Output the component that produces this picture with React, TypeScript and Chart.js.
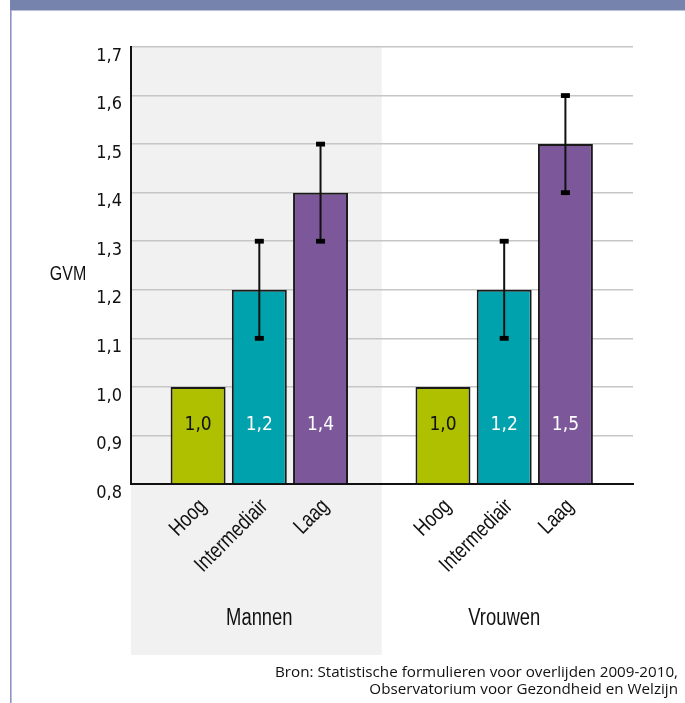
import React, { useEffect, useRef } from 'react';
import { Chart, registerables } from 'chart.js';

Chart.register(...registerables);

const groups = ['Mannen', 'Vrouwen'];
const levels = ['Hoog', 'Intermediair', 'Laag'];
const hoog = [1.0, 1.0];
const intermediair = [1.2, 1.2];
const laag = [1.4, 1.5];
const intermediairLow = [1.1, 1.1];
const intermediairHigh = [1.3, 1.3];
const laagLow = [1.3, 1.4];
const laagHigh = [1.5, 1.6];
const hoogLabels = ['1,0', '1,0'];
const intermediairLabels = ['1,2', '1,2'];
const laagLabels = ['1,4', '1,5'];
const yMin = 0.8;
const yMax = 1.7;
const yStep = 0.1;
const yTitle = 'GVM';
const sourceLines = [
  'Bron: Statistische formulieren voor overlijden 2009-2010,',
  'Observatorium voor Gezondheid en Welzijn',
];

const CONDENSED = '"DejaVu Sans Condensed", "Liberation Sans Narrow", sans-serif';
const HELV = '"Liberation Sans", Arial, sans-serif';
const SOURCE_FONT = '"Open Sans", "Noto Sans", sans-serif';

const errLow: (number[] | null)[] = [null, intermediairLow, laagLow];
const errHigh: (number[] | null)[] = [null, intermediairHigh, laagHigh];
const barLabels = [hoogLabels, intermediairLabels, laagLabels];
const labelColors = ['#111111', '#ffffff', '#ffffff'];

const toPoints = (vals: number[]) => vals.map((v, i) => ({ x: i, y: v }));

function narrowText(ctx: CanvasRenderingContext2D, text: string, x: number, y: number, size: number, align: CanvasTextAlign, rot = 0, squeeze = 0.8) {
  ctx.save();
  ctx.translate(x, y);
  if (rot) ctx.rotate(rot);
  ctx.scale(squeeze, 1);
  ctx.font = `${size}px ${HELV}`;
  ctx.textAlign = align;
  ctx.textBaseline = 'middle';
  ctx.fillText(text, 0, 0);
  ctx.restore();
}

const decor = {
  id: 'decor',
  beforeDraw(chart: any) {
    const { ctx, chartArea, scales } = chart;
    const x = scales.x;
    const mid = x.getPixelForValue(0.5);
    ctx.save();
    ctx.fillStyle = '#ffffff';
    ctx.fillRect(0, 0, chart.width, chart.height);
    ctx.fillStyle = '#f1f1f1';
    ctx.fillRect(chartArea.left, chartArea.top, mid - chartArea.left, chartArea.bottom + 171 - chartArea.top);
    ctx.fillStyle = '#7683ad';
    ctx.fillRect(10, 0, chart.width - 10, 10.5);
    ctx.fillStyle = '#8c95c2';
    ctx.fillRect(10, 10, 1.6, chart.height - 10);
    ctx.restore();
  },
  afterDatasetsDraw(chart: any) {
    const { ctx, chartArea, scales } = chart;
    const y = scales.y;
    ctx.save();
    // error bars
    for (let i = 0; i < 3; i++) {
      const lo = errLow[i];
      const hi = errHigh[i];
      if (!lo || !hi) continue;
      const meta = chart.getDatasetMeta(i);
      meta.data.forEach((bar: any, j: number) => {
        const yl = y.getPixelForValue(lo[j]);
        const yh = y.getPixelForValue(hi[j]);
        ctx.strokeStyle = '#111111';
        ctx.lineWidth = 2;
        ctx.beginPath();
        ctx.moveTo(bar.x, yl);
        ctx.lineTo(bar.x, yh);
        ctx.stroke();
        ctx.fillStyle = '#000000';
        ctx.fillRect(bar.x - 4.5, yl - 2.4, 9, 4.8);
        ctx.fillRect(bar.x - 4.5, yh - 2.4, 9, 4.8);
      });
    }
    // value labels inside bars
    ctx.font = `19px ${CONDENSED}`;
    ctx.textAlign = 'center';
    ctx.textBaseline = 'middle';
    for (let i = 0; i < 3; i++) {
      const meta = chart.getDatasetMeta(i);
      ctx.fillStyle = labelColors[i];
      meta.data.forEach((bar: any, j: number) => {
        ctx.fillText(barLabels[i][j], bar.x, chartArea.bottom - 59);
      });
    }
    // rotated level labels
    ctx.fillStyle = '#111111';
    for (let i = 0; i < 3; i++) {
      const meta = chart.getDatasetMeta(i);
      meta.data.forEach((bar: any) => {
        narrowText(ctx, levels[i], bar.x + 5, chartArea.bottom + 19, 22, 'right', -Math.PI / 4);
      });
    }
    // group labels
    const mid = chart.getDatasetMeta(1);
    mid.data.forEach((bar: any, j: number) => {
      narrowText(ctx, groups[j], bar.x, chartArea.bottom + 135, 23, 'center');
    });
    // y title
    narrowText(ctx, yTitle, chartArea.left - 63, (chartArea.top + chartArea.bottom) / 2 + 9, 20, 'center');
    // source
    ctx.font = `15.2px ${SOURCE_FONT}`;
    ctx.textAlign = 'right';
    ctx.textBaseline = 'alphabetic';
    ctx.fillStyle = '#111111';
    ctx.fillText(sourceLines[0], 678, chart.height - 26);
    ctx.fillText(sourceLines[1], 678, chart.height - 9);
    ctx.restore();
  },
};

export default function App() {
  const ref = useRef<HTMLCanvasElement | null>(null);
  useEffect(() => {
    if (!ref.current) return;
    const chart = new Chart(ref.current, {
      type: 'bar',
      data: {
        datasets: [
          { label: levels[0], data: toPoints(hoog), backgroundColor: '#aec000', borderColor: '#1a1a1a', borderWidth: 2, base: yMin } as any,
          { label: levels[1], data: toPoints(intermediair), backgroundColor: '#00a3ad', borderColor: '#1a1a1a', borderWidth: 2, base: yMin } as any,
          { label: levels[2], data: toPoints(laag), backgroundColor: '#7c579a', borderColor: '#1a1a1a', borderWidth: 2, base: yMin } as any,
        ],
      },
      options: {
        responsive: false,
        animation: false,
        devicePixelRatio: 1,
        categoryPercentage: 0.75,
        barPercentage: 0.898,
        layout: { padding: { top: 47, right: 52, left: 0, bottom: 0 } },
        plugins: { legend: { display: false }, tooltip: { enabled: false }, title: { display: false } },
        scales: {
          x: {
            type: 'linear',
            min: -0.524,
            max: 1.526,
            offset: false,
            grid: { display: false, drawTicks: false },
            border: { display: true, color: '#111111', width: 2 },
            ticks: { display: false },
            afterBuildTicks: (s: any) => { s.ticks = groups.map((_, i) => ({ value: i })); },
            afterFit: (s: any) => { s.height = 219; },
          },
          y: {
            min: yMin,
            max: yMax,
            grid: { color: '#c6c6c6', lineWidth: 1.5, drawTicks: false },
            border: { display: true, color: '#111111', width: 2 },
            ticks: {
              stepSize: yStep,
              padding: 9,
              labelOffset: 9,
              color: '#111111',
              font: { family: CONDENSED, size: 18 },
              callback: (v: any) => Number(v).toFixed(1).replace('.', ','),
            },
            afterFit: (s: any) => { s.width = 131; },
          },
        },
      } as any,
      plugins: [decor],
    });
    return () => chart.destroy();
  }, []);
  return (
    <div style={{ position: 'fixed', left: 0, top: 0, width: 685, height: 703, background: '#fff' }}>
      <canvas ref={ref} width={685} height={703} style={{ display: 'block' }} />
    </div>
  );
}
